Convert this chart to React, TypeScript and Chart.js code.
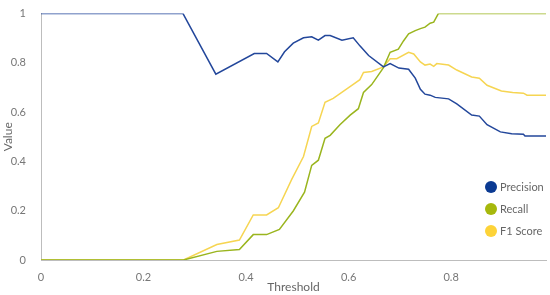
import React, { useEffect, useRef } from "react";
import { Chart, registerables } from "chart.js";

Chart.register(...registerables);

const precisionX = [0, 0.277, 0.341, 0.416, 0.44, 0.462, 0.475, 0.492, 0.512, 0.528, 0.541, 0.554, 0.564, 0.587, 0.609, 0.622, 0.639, 0.668, 0.681, 0.698, 0.717, 0.73, 0.74, 0.749, 0.759, 0.769, 0.795, 0.811, 0.84, 0.855, 0.87, 0.896, 0.918, 0.941, 0.944, 0.985];
const precisionY = [1, 1, 0.754, 0.838, 0.838, 0.804, 0.845, 0.88, 0.902, 0.906, 0.892, 0.911, 0.911, 0.892, 0.902, 0.869, 0.83, 0.784, 0.797, 0.779, 0.774, 0.738, 0.693, 0.673, 0.669, 0.66, 0.654, 0.634, 0.588, 0.584, 0.549, 0.52, 0.512, 0.51, 0.503, 0.503];

const recallX = [0, 0.278, 0.343, 0.387, 0.414, 0.44, 0.465, 0.492, 0.514, 0.528, 0.541, 0.554, 0.564, 0.583, 0.603, 0.619, 0.629, 0.645, 0.668, 0.681, 0.697, 0.707, 0.717, 0.73, 0.74, 0.749, 0.759, 0.766, 0.775, 0.985];
const recallY = [0, 0, 0.035, 0.043, 0.103, 0.103, 0.124, 0.199, 0.275, 0.384, 0.405, 0.494, 0.506, 0.549, 0.588, 0.614, 0.68, 0.712, 0.781, 0.843, 0.856, 0.889, 0.918, 0.931, 0.939, 0.945, 0.961, 0.965, 1, 1];

const f1X = [0, 0.278, 0.343, 0.387, 0.414, 0.44, 0.463, 0.489, 0.512, 0.528, 0.541, 0.554, 0.57, 0.609, 0.622, 0.629, 0.645, 0.668, 0.681, 0.694, 0.717, 0.727, 0.74, 0.749, 0.759, 0.766, 0.772, 0.795, 0.811, 0.84, 0.855, 0.87, 0.898, 0.92, 0.941, 0.948, 0.985];
const f1Y = [0, 0, 0.063, 0.081, 0.183, 0.183, 0.212, 0.327, 0.42, 0.542, 0.556, 0.64, 0.656, 0.713, 0.732, 0.761, 0.765, 0.784, 0.817, 0.817, 0.843, 0.836, 0.804, 0.791, 0.795, 0.786, 0.797, 0.791, 0.771, 0.743, 0.738, 0.709, 0.686, 0.68, 0.677, 0.669, 0.669];

const seriesLabels = ["Precision", "Recall", "F1 Score"];
const lineColors = ["#23479b", "#9ab51e", "#f6d552"];
const markerColors = ["#0b3a92", "#a6b80c", "#fdd338"];
const xTickValues = [0, 0.2, 0.4, 0.6, 0.8];

const FONT = "Lato, 'Open Sans', sans-serif";

const pts = (xs: number[], ys: number[]) => xs.map((x, i) => ({ x, y: ys[i] }));
const fmt = (v: any) => String(+Number(v).toFixed(2));

const insideLegend = {
  id: "insideLegend",
  afterDraw(chart: any) {
    const { ctx, chartArea } = chart;
    ctx.save();
    ctx.font = `11px ${FONT}`;
    ctx.textBaseline = "middle";
    ctx.textAlign = "left";
    chart.data.datasets.forEach((ds: any, i: number) => {
      const cx = chartArea.right - 55;
      const cy = chartArea.bottom - 73 + i * 22;
      ctx.beginPath();
      ctx.fillStyle = markerColors[i];
      ctx.arc(cx, cy, 6, 0, Math.PI * 2);
      ctx.fill();
      ctx.fillStyle = "#666";
      ctx.fillText(ds.label, cx + 9, cy);
    });
    ctx.restore();
  },
};

export default function App() {
  const ref = useRef<HTMLCanvasElement | null>(null);
  useEffect(() => {
    document.body.style.margin = "0";
    if (!ref.current) return;
    const chart = new Chart(ref.current, {
      type: "line",
      data: {
        datasets: [
          { label: seriesLabels[0], data: pts(precisionX, precisionY), borderColor: lineColors[0], backgroundColor: markerColors[0] },
          { label: seriesLabels[1], data: pts(recallX, recallY), borderColor: lineColors[1], backgroundColor: markerColors[1] },
          { label: seriesLabels[2], data: pts(f1X, f1Y), borderColor: lineColors[2], backgroundColor: markerColors[2] },
        ].map((d) => ({ ...d, borderWidth: 1.5, pointRadius: 0, tension: 0, fill: false })),
      },
      options: {
        animation: false,
        responsive: false,
        layout: { padding: { top: 5, right: 4, left: 0, bottom: 0 } },
        plugins: { legend: { display: false }, tooltip: { enabled: false } },
        scales: {
          x: {
            type: "linear",
            min: 0,
            max: 0.985,
            grid: { display: false },
            border: { display: true, color: "#bdbdbd", width: 1 },
            afterBuildTicks: (s: any) => {
              s.ticks = xTickValues.map((v) => ({ value: v }));
            },
            afterFit: (s: any) => {
              s.height = 35;
            },
            ticks: { color: "#777", font: { family: FONT, size: 11 }, padding: 3, maxRotation: 0, callback: fmt },
            title: { display: true, text: "Threshold", color: "#666", font: { family: FONT, size: 12 }, padding: { top: 0, bottom: 1 } },
          },
          y: {
            min: 0,
            max: 1,
            grid: { display: false },
            border: { display: true, color: "#bdbdbd", width: 1 },
            afterFit: (s: any) => {
              s.width = 41;
            },
            ticks: { stepSize: 0.2, color: "#777", font: { family: FONT, size: 11 }, padding: 7, callback: fmt },
            title: { display: true, text: "Value", color: "#666", font: { family: FONT, size: 12 }, padding: { top: 1, bottom: 0 } },
          },
        },
      },
      plugins: [insideLegend],
    });
    return () => chart.destroy();
  }, []);
  return (
    <div style={{ width: 550, height: 295 }}>
      <canvas ref={ref} width={550} height={295} />
    </div>
  );
}
